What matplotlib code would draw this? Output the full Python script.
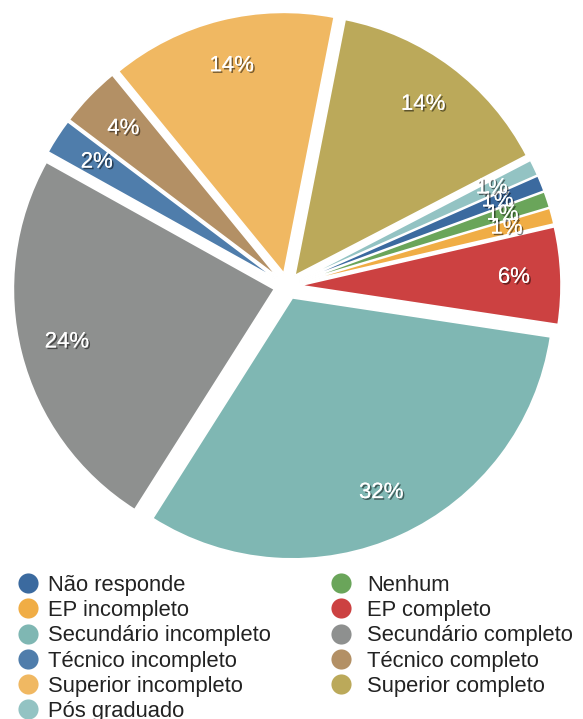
import matplotlib
matplotlib.use("Agg")
import matplotlib.pyplot as plt
import matplotlib.patheffects as pe
from matplotlib.lines import Line2D

plt.rcParams['font.family'] = ['Liberation Sans', 'DejaVu Sans']

# Education levels and their shares (%)
labels = ["Não responde", "Nenhum", "EP incompleto", "EP completo",
          "Secundário incompleto", "Secundário completo", "Técnico incompleto",
          "Técnico completo", "Superior incompleto", "Superior completo",
          "Pós graduado"]
values = [1.0, 1.0, 1.0, 6.0, 31.6, 24.1, 2.2, 3.8, 14.0, 14.3, 1.0]
colors = ["#3b6a9f", "#6aa55a", "#f0ad45", "#cc4141", "#7fb7b3", "#8e908f",
          "#4f7dab", "#b39065", "#f0b862", "#bba95a", "#93c3c3"]

fig = plt.figure(figsize=(5.83, 7.19), dpi=100)
ax = fig.add_axes([0, 0, 1, 1])

# pie center / radius in pixels
cx, cy, rad = 287, 286, 261
W, H = 583, 719

shadow = [pe.withSimplePatchShadow(offset=(1.2, -1.2), shadow_rgbFace='black', alpha=0.5),
          pe.Normal()]

wedges, texts, autotexts = ax.pie(
    values, colors=colors, startangle=23.8, counterclock=False,
    explode=[0.05] * len(values), autopct='%.0f%%', pctdistance=0.82,
    wedgeprops=dict(edgecolor='white', linewidth=1.2),
    textprops=dict(color='white', fontsize=16))
for t in autotexts:
    t.set_path_effects(shadow)

ax.set_aspect('auto')
ax.set_xlim(-cx / rad, (W - cx) / rad)
ax.set_ylim((cy - H) / rad, cy / rad)
ax.axis('off')

# legend: two columns, row-major order
row_y = [583, 608, 633.5, 659, 684, 709]
col_marker_x = [27.5, 341]
col_text_x = [48, 367]
for i, (lab, col) in enumerate(zip(labels, colors)):
    c, r = i % 2, i // 2
    fy = 1 - row_y[r] / H
    ax.add_line(Line2D([col_marker_x[c] / W], [fy], marker='o', markersize=14.5,
                       color=col, markeredgewidth=0, transform=fig.transFigure))
    fig.text(col_text_x[c] / W, fy, lab, fontsize=15.8, color='#222222',
             va='center_baseline', ha='left')

fig.savefig("out.png", dpi=100)
